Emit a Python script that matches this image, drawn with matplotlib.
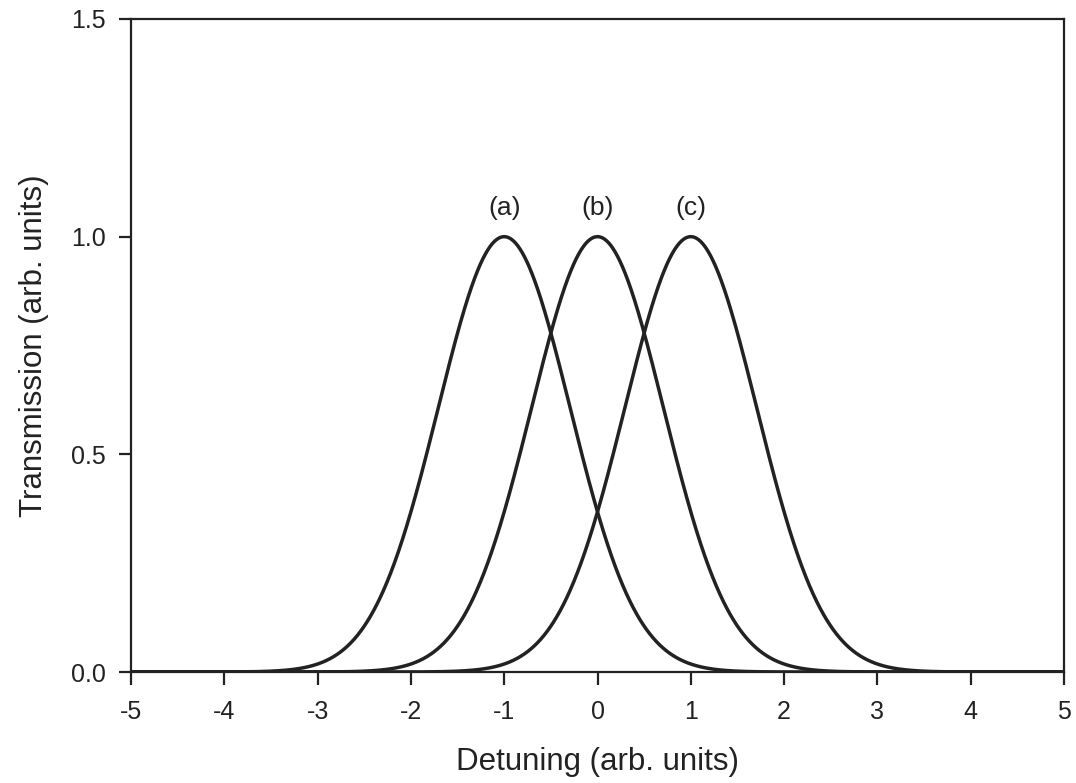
import numpy as np
import matplotlib
matplotlib.use("Agg")
import matplotlib.pyplot as plt

plt.rcParams['font.family'] = ['Liberation Sans', 'DejaVu Sans']

# Line-shape parameters of the three transmission peaks
curve_labels = ["(a)", "(b)", "(c)"]
centers = [-1.0, 0.0, 1.0]
peak_heights = [1.0, 1.0, 1.0]
widths = [1.0, 1.0, 1.0]  # 1/e half-width

x_ticks = [-5, -4, -3, -2, -1, 0, 1, 2, 3, 4, 5]
y_ticks = [0.0, 0.5, 1.0, 1.5]
label_y = 1.065

ink = "#222222"
fig = plt.figure(figsize=(10.76, 7.83), dpi=100)
ax = fig.add_axes([131 / 1076, 1 - 672 / 783, (1064 - 131) / 1076, (672 - 19) / 783])

x = np.linspace(-5, 5, 2001)
for lab, c, h, w in zip(curve_labels, centers, peak_heights, widths):
    y = h * np.exp(-((x - c) / w) ** 2)
    ax.plot(x, y, color=ink, lw=2.5, solid_capstyle="butt")
    ax.text(c, label_y, lab, ha="center", va="center", fontsize=19, color=ink)

ax.set_xlim(-5, 5)
ax.set_ylim(0, 1.5)
ax.set_xticks(x_ticks)
ax.set_xticklabels([str(t) for t in x_ticks])
ax.set_yticks(y_ticks)
ax.set_yticklabels([f"{t:.1f}" for t in y_ticks])
ax.tick_params(direction="out", length=9, width=1.6, colors=ink, labelsize=18)
ax.tick_params(axis="x", pad=11)
ax.tick_params(axis="y", pad=9)
for s in ax.spines.values():
    s.set_color(ink)
    s.set_linewidth(1.6)

ax.set_xlabel("Detuning (arb. units)", fontsize=22.5, color=ink, labelpad=17)
ax.set_ylabel("Transmission (arb. units)", fontsize=22.5, color=ink, labelpad=16)

fig.savefig("out.png", dpi=100)
